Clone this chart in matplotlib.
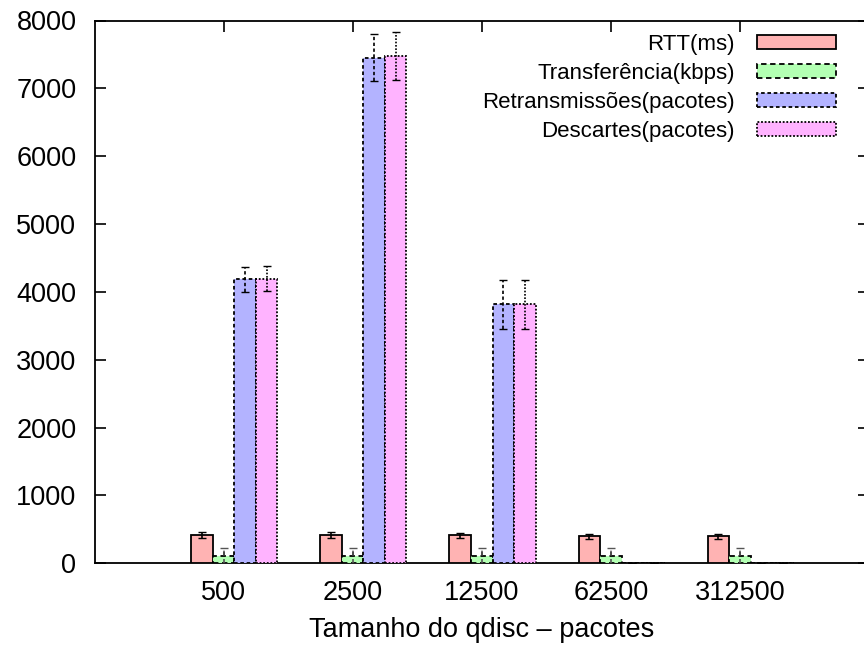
import numpy as np
import matplotlib
matplotlib.use("Agg")
import matplotlib.pyplot as plt

plt.rcParams['font.family'] = ['Liberation Sans', 'DejaVu Sans']

# data
categories = ["500", "2500", "12500", "62500", "312500"]
series = ["RTT(ms)", "Transferência(kbps)", "Retransmissões(pacotes)", "Descartes(pacotes)"]
rtt = [417, 417, 412, 395, 395]
rtt_err = [40, 38, 36, 35, 35]
transf = [110, 110, 110, 107, 107]
transf_err = [120, 120, 120, 115, 115]
retrans = [4185, 7452, 3818, 0, 0]
retrans_err = [180, 350, 358, 0, 0]
descart = [4195, 7476, 3820, 0, 0]
descart_err = [180, 350, 360, 0, 0]

colors = ["#ffb3b3", "#b3ffb3", "#b3b3ff", "#ffb3ff"]
edge_styles = ["solid", (0, (3, 2)), (0, (2, 1.5)), (0, (1, 1))]
err_colors = ["black", "#555555", "black", "black"]

fig = plt.figure(figsize=(8.64, 6.55), dpi=100)
ax = fig.add_axes([94.5 / 864, 91.7 / 655, (869 - 94.5) / 864, (563.3 - 20.5) / 655])

x = np.arange(len(categories))
w = 1.0 / 6
offsets = [-w, 0, w, 2 * w]
values = [rtt, transf, retrans, descart]
errors = [rtt_err, transf_err, retrans_err, descart_err]

for i in range(4):
    ax.bar(x + offsets[i], values[i], width=w, color=colors[i], edgecolor="black",
           linewidth=1.3, linestyle=edge_styles[i], label=series[i], zorder=3)
    eb = ax.errorbar(x + offsets[i], values[i], yerr=errors[i], fmt="none",
                     ecolor=err_colors[i], elinewidth=1.2, capsize=3, capthick=1.0, zorder=4)
    eb[2][0].set_linestyle(edge_styles[i])

ax.set_xlim(-1, 5)
ax.set_ylim(0, 8000)
ax.set_yticks(np.arange(0, 8001, 1000))
ax.set_xticks(x)
ax.set_xticklabels(categories)
ax.tick_params(axis="both", direction="in", length=8, width=1.2, labelsize=19.5,
               top=True, right=True)
ax.tick_params(axis="y", pad=13)
ax.tick_params(axis="x", pad=12)
for s in ax.spines.values():
    s.set_linewidth(1.3)

ax.set_xlabel("Tamanho do qdisc \u2013 pacotes", fontsize=19.5, labelpad=8)

leg = ax.legend(loc="upper right", bbox_to_anchor=(836 / 864, 1 - 34 / 655),
                bbox_transform=fig.transFigure, frameon=False, markerfirst=False,
                fontsize=16, handlelength=3.55, handleheight=0.6, handletextpad=1.0,
                labelspacing=0.36, borderpad=0, borderaxespad=0)
for t in leg.get_texts():
    t.set_ha("right")

fig.savefig("out.png", dpi=100)
